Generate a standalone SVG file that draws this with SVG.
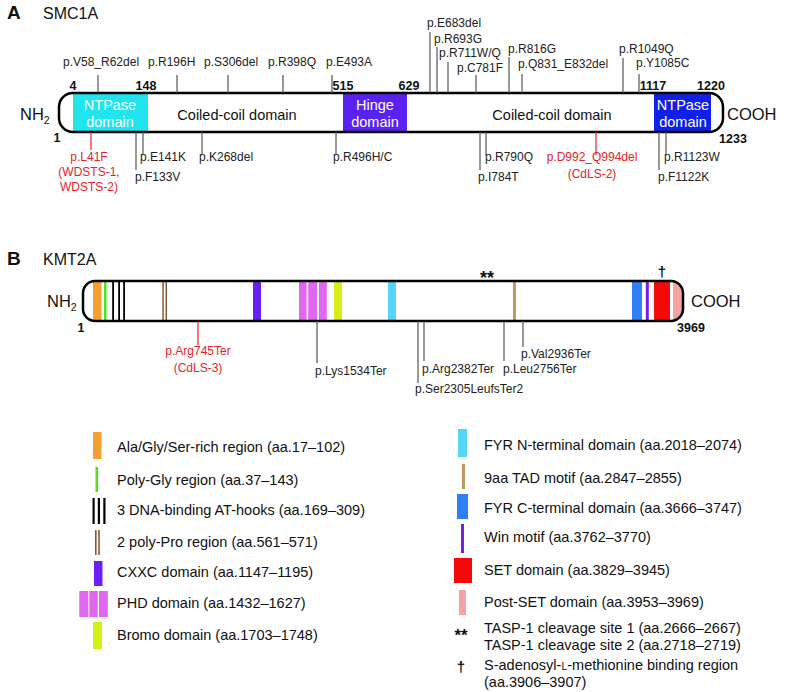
<svg xmlns="http://www.w3.org/2000/svg" width="794" height="692" viewBox="0 0 794 692">
<style>
text{font-family:"Liberation Sans",Arial,Helvetica,sans-serif;fill:#222}
.lbl{font-size:12px}
.red{fill:#e4232b}
.num{font-size:12.5px;font-weight:bold;fill:#111;text-anchor:middle}
.dom{font-size:14.5px;fill:#111;text-anchor:middle}
.domw{font-size:14.5px;fill:#fff;text-anchor:middle}
.end{font-size:16.5px;fill:#111}
.sub{font-size:10.5px;fill:#111}
.head{font-size:19px;font-weight:bold;fill:#111}
.title{font-size:16px;fill:#111}
.leg{font-size:14.5px;fill:#111}
.tk{stroke:#555;stroke-width:1.2;fill:none}
.tkr{stroke:#e4232b;stroke-width:1.2;fill:none}
.bar{fill:none;stroke:#000;stroke-width:2.5}
.mid{text-anchor:middle}
.sym{font-weight:bold;fill:#111;text-anchor:middle}
</style>
<defs>
<clipPath id="clipA"><rect x="59" y="93" width="664" height="39" rx="14" ry="14"/></clipPath>
<clipPath id="clipB"><rect x="83" y="281" width="600" height="40" rx="12" ry="12"/></clipPath>
</defs>

<!-- Panel A -->
<g id="panelA-title">
<text class="head" x="7" y="19">A</text>
<text class="title" x="43" y="19">SMC1A</text>
</g>

<g id="smc1a-protein">
<rect x="59" y="93" width="664" height="39" rx="14" ry="14" fill="#fff"/>
<g clip-path="url(#clipA)">
<rect id="ntpase1" x="73" y="93" width="75" height="39" fill="#20e4ee"/>
<rect id="hinge" x="343" y="93" width="64" height="39" fill="#5a22f0"/>
<rect id="ntpase2" x="654" y="93" width="57" height="39" fill="#1020e8"/>
</g>
<rect class="bar" x="59" y="93" width="664" height="39" rx="14" ry="14"/>
<text class="domw" x="110" y="110">NTPase</text>
<text class="domw" x="110" y="127">domain</text>
<text class="dom" x="237" y="120">Coiled-coil domain</text>
<text class="domw" x="375" y="110">Hinge</text>
<text class="domw" x="375" y="127">domain</text>
<text class="dom" x="552" y="120">Coiled-coil domain</text>
<text class="domw" x="683" y="110">NTPase</text>
<text class="domw" x="683" y="127">domain</text>
<text class="end" x="20" y="120">NH<tspan class="sub" dy="4">2</tspan></text>
<text class="end" x="727" y="120">COOH</text>
<text class="num" x="73" y="90">4</text>
<text class="num" x="146" y="90">148</text>
<text class="num" x="343" y="90">515</text>
<text class="num" x="409" y="90">629</text>
<text class="num" x="653" y="90">1117</text>
<text class="num" x="711" y="90">1220</text>
<text class="num" x="57" y="142">1</text>
<text class="num" x="733" y="143">1233</text>
</g>

<g id="smc1a-connectors">
<line class="tk" x1="98" y1="75" x2="98" y2="93"/>
<line class="tk" x1="177" y1="75" x2="177" y2="93"/>
<line class="tk" x1="228" y1="75" x2="228" y2="93"/>
<line class="tk" x1="283" y1="75" x2="283" y2="93"/>
<line class="tk" x1="332" y1="75" x2="332" y2="93"/>
<line class="tk" x1="430" y1="32" x2="430" y2="93"/>
<line class="tk" x1="437" y1="47" x2="437" y2="93"/>
<line class="tk" x1="448" y1="62" x2="448" y2="93"/>
<line class="tk" x1="476" y1="75" x2="476" y2="93"/>
<line class="tk" x1="509" y1="57" x2="509" y2="93"/>
<line class="tk" x1="522" y1="74" x2="522" y2="93"/>
<line class="tk" x1="623" y1="58" x2="623" y2="93"/>
<line class="tk" x1="639" y1="74" x2="639" y2="93"/>
<line class="tkr" x1="91" y1="132" x2="91" y2="150"/>
<line class="tk" x1="136" y1="132" x2="136" y2="170"/>
<line class="tk" x1="143" y1="132" x2="143" y2="155"/>
<line class="tk" x1="202" y1="132" x2="202" y2="155"/>
<line class="tk" x1="336" y1="132" x2="336" y2="155"/>
<line class="tk" x1="480" y1="132" x2="480" y2="170"/>
<line class="tk" x1="486" y1="132" x2="486" y2="155"/>
<line class="tkr" x1="596" y1="132" x2="596" y2="155"/>
<line class="tk" x1="659" y1="132" x2="659" y2="170"/>
<line class="tk" x1="666" y1="132" x2="666" y2="155"/>
</g>

<g id="smc1a-labels">
<text class="lbl" x="63" y="66">p.V58_R62del</text>
<text class="lbl" x="148" y="66">p.R196H</text>
<text class="lbl" x="204" y="66">p.S306del</text>
<text class="lbl" x="268" y="66">p.R398Q</text>
<text class="lbl" x="326" y="66">p.E493A</text>
<text class="lbl" x="427" y="27">p.E683del</text>
<text class="lbl" x="434" y="43">p.R693G</text>
<text class="lbl" x="439" y="57">p.R711W/Q</text>
<text class="lbl" x="457" y="72">p.C781F</text>
<text class="lbl" x="508" y="53">p.R816G</text>
<text class="lbl" x="518" y="68">p.Q831_E832del</text>
<text class="lbl" x="619" y="53">p.R1049Q</text>
<text class="lbl" x="636" y="67">p.Y1085C</text>
<text class="lbl red mid" x="89" y="161">p.L41F</text>
<text class="lbl red mid" x="89" y="176">(WDSTS-1,</text>
<text class="lbl red mid" x="89" y="191">WDSTS-2)</text>
<text class="lbl" x="135" y="181">p.F133V</text>
<text class="lbl" x="140" y="161">p.E141K</text>
<text class="lbl" x="199" y="161">p.K268del</text>
<text class="lbl" x="333" y="161">p.R496H/C</text>
<text class="lbl" x="478" y="181">p.I784T</text>
<text class="lbl" x="485" y="161">p.R790Q</text>
<text class="lbl red mid" x="592" y="161">p.D992_Q994del</text>
<text class="lbl red mid" x="592" y="178">(CdLS-2)</text>
<text class="lbl" x="658" y="181">p.F1122K</text>
<text class="lbl" x="664" y="161">p.R1123W</text>
</g>

<!-- Panel B -->
<g id="panelB-title">
<text class="head" x="7" y="265">B</text>
<text class="title" x="43" y="265">KMT2A</text>
</g>

<g id="kmt2a-protein">
<rect x="83" y="281" width="600" height="40" rx="12" ry="12" fill="#fff"/>
<g clip-path="url(#clipB)">
<rect x="93" y="281" width="8.5" height="40" fill="#f5a030"/>
<rect x="104" y="281" width="2.5" height="40" fill="#55e020"/>
<rect x="112.2" y="281" width="1.8" height="40" fill="#000"/>
<rect x="118.2" y="281" width="1.8" height="40" fill="#000"/>
<rect x="123.2" y="281" width="1.8" height="40" fill="#000"/>
<rect x="162.3" y="281" width="1.5" height="40" fill="#8b5a3a"/>
<rect x="165.5" y="281" width="1.5" height="40" fill="#8b5a3a"/>
<rect x="253" y="281" width="8" height="40" fill="#6a1ff5"/>
<rect x="299" y="281" width="7.6" height="40" fill="#e068f0"/>
<rect x="308.2" y="281" width="9" height="40" fill="#e068f0"/>
<rect x="319" y="281" width="7.8" height="40" fill="#e068f0"/>
<rect x="334" y="281" width="8" height="40" fill="#d2f014"/>
<rect x="388" y="281" width="8" height="40" fill="#55d5f8"/>
<rect x="513" y="281" width="3" height="40" fill="#bf9a60"/>
<rect x="632" y="281" width="10" height="40" fill="#2f7ff5"/>
<rect x="645.8" y="281" width="3" height="40" fill="#7a1ee0"/>
<rect x="654" y="281" width="16" height="40" fill="#f50a0a"/>
<rect x="673" y="281" width="12" height="40" fill="#f5a3a3"/>
</g>
<rect class="bar" x="83" y="281" width="600" height="40" rx="12" ry="12"/>
<text class="end" x="47" y="307">NH<tspan class="sub" dy="4">2</tspan></text>
<text class="end" x="691" y="307">COOH</text>
<text class="num" x="81" y="332">1</text>
<text class="num" x="691" y="332">3969</text>
<text class="sym" x="487" y="284" style="font-size:18px">**</text>
<text class="sym" x="662" y="277" style="font-size:15px">†</text>
</g>

<g id="kmt2a-connectors">
<line class="tkr" x1="198" y1="321" x2="198" y2="345"/>
<line class="tk" x1="317" y1="321" x2="317" y2="363"/>
<line class="tk" x1="418" y1="321" x2="418" y2="383"/>
<line class="tk" x1="424" y1="321" x2="424" y2="361"/>
<line class="tk" x1="504" y1="321" x2="504" y2="361"/>
<line class="tk" x1="523" y1="321" x2="523" y2="347"/>
</g>

<g id="kmt2a-labels">
<text class="lbl red mid" x="198" y="355">p.Arg745Ter</text>
<text class="lbl red mid" x="198" y="372">(CdLS-3)</text>
<text class="lbl" x="315" y="375">p.Lys1534Ter</text>
<text class="lbl" x="415" y="393">p.Ser2305LeufsTer2</text>
<text class="lbl" x="422" y="373">p.Arg2382Ter</text>
<text class="lbl" x="503" y="373">p.Leu2756Ter</text>
<text class="lbl" x="521" y="358">p.Val2936Ter</text>
</g>

<!-- Legend -->
<g id="legend-left">
<rect x="93" y="432" width="8.5" height="27" fill="#f5a030"/>
<text class="leg" x="117" y="452">Ala/Gly/Ser-rich region (aa.17–102)</text>
<rect x="95.5" y="467" width="2.5" height="25" fill="#55e020"/>
<text class="leg" x="117" y="485">Poly-Gly region (aa.37–143)</text>
<rect x="92.5" y="498" width="2.2" height="26" fill="#000"/>
<rect x="97.8" y="498" width="2.2" height="26" fill="#000"/>
<rect x="103.3" y="498" width="2.2" height="26" fill="#000"/>
<text class="leg" x="117" y="515">3 DNA-binding AT-hooks (aa.169–309)</text>
<rect x="95" y="530" width="1.6" height="25" fill="#8b5a3a"/>
<rect x="98.2" y="530" width="1.6" height="25" fill="#8b5a3a"/>
<text class="leg" x="117" y="547">2 poly-Pro region (aa.561–571)</text>
<rect x="94" y="561" width="8.5" height="25" fill="#6a1ff5"/>
<text class="leg" x="117" y="577">CXXC domain (aa.1147–1195)</text>
<rect x="79.3" y="591" width="9" height="26" fill="#e068f0"/>
<rect x="89.3" y="591" width="8.5" height="26" fill="#e068f0"/>
<rect x="99" y="591" width="8.8" height="26" fill="#e068f0"/>
<text class="leg" x="117" y="608">PHD domain (aa.1432–1627)</text>
<rect x="93" y="622" width="9" height="27" fill="#d2f014"/>
<text class="leg" x="117" y="640">Bromo domain (aa.1703–1748)</text>
</g>

<g id="legend-right">
<rect x="458" y="429" width="9" height="28" fill="#55d5f8"/>
<text class="leg" x="484" y="450">FYR N-terminal domain (aa.2018–2074)</text>
<rect x="462" y="464" width="3" height="25" fill="#bf9a60"/>
<text class="leg" x="484" y="483">9aa TAD motif (aa.2847–2855)</text>
<rect x="457" y="494" width="11" height="25" fill="#2f7ff5"/>
<text class="leg" x="484" y="513">FYR C-terminal domain (aa.3666–3747)</text>
<rect x="461" y="524" width="3" height="29" fill="#7a1ee0"/>
<text class="leg" x="484" y="542">Win motif (aa.3762–3770)</text>
<rect x="454" y="558" width="18" height="25" fill="#f50a0a"/>
<text class="leg" x="484" y="575">SET domain (aa.3829–3945)</text>
<rect x="459" y="590" width="7" height="25" fill="#f5a3a3"/>
<text class="leg" x="484" y="607">Post-SET domain (aa.3953–3969)</text>
<text class="sym" x="461" y="641" style="font-size:17px">**</text>
<text class="leg" x="484" y="633">TASP-1 cleavage site 1 (aa.2666–2667)</text>
<text class="leg" x="484" y="650">TASP-1 cleavage site 2 (aa.2718–2719)</text>
<text class="sym" x="461" y="672" style="font-size:15px">†</text>
<text class="leg" x="484" y="670">S-adenosyl-<tspan style="font-size:10.5px">L</tspan>-methionine binding region</text>
<text class="leg" x="484" y="687">(aa.3906–3907)</text>
</g>
</svg>
